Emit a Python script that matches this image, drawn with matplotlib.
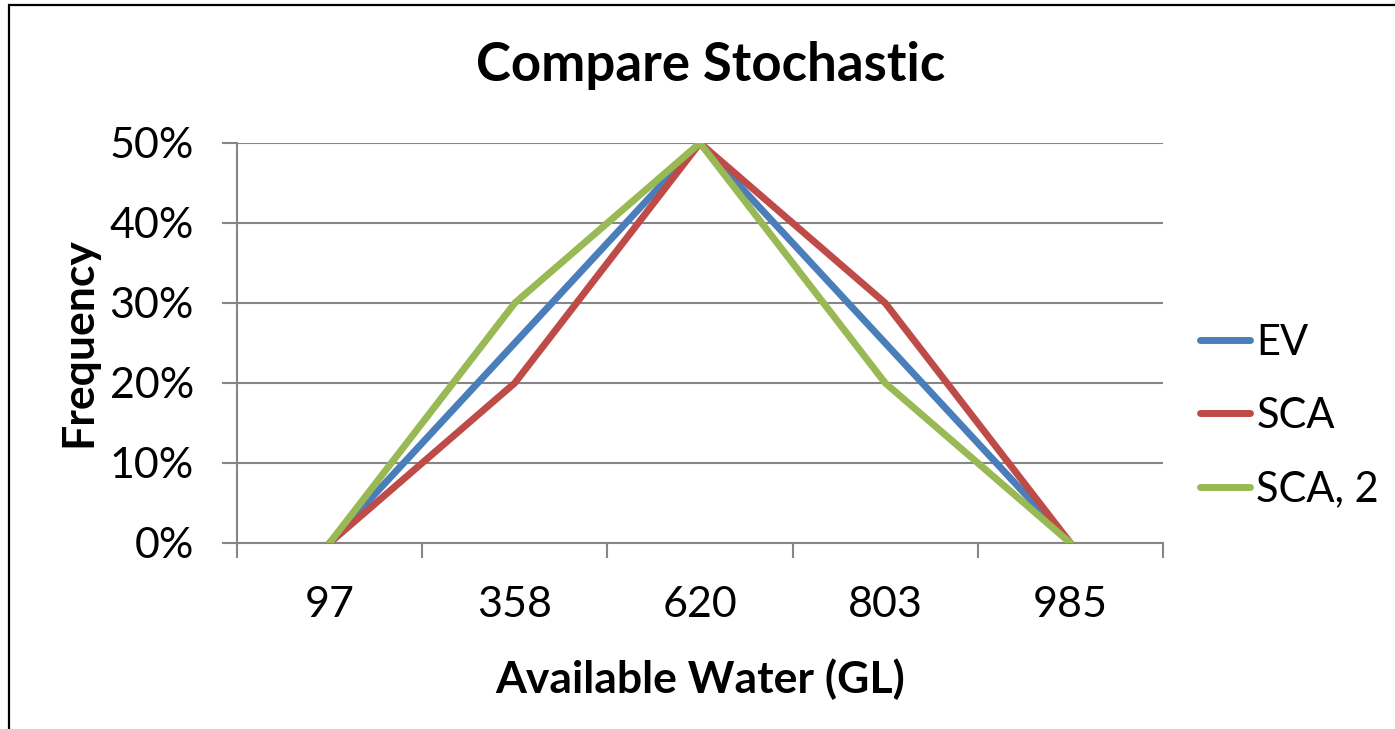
import matplotlib
matplotlib.use("Agg")
import matplotlib.pyplot as plt
from matplotlib.patches import Rectangle
from matplotlib.ticker import PercentFormatter

# ── data
categories = ["97", "358", "620", "803", "985"]
ev = [0, 25, 50, 25, 0]
sca = [0, 20, 50, 30, 0]
sca2 = [0, 30, 50, 20, 0]
series_names = ["EV", "SCA", "SCA, 2"]
series_colors = ["#4A7EBB", "#BE4B48", "#98B954"]

plt.rcParams["font.family"] = ["Lato", "DejaVu Sans"]

W, H = 1395, 729
fig = plt.figure(figsize=(W / 100, H / 100), dpi=100)
fig.patch.set_facecolor("white")

# plot area in pixels: x 237..1163, y 143..543
ax = fig.add_axes([237 / W, 1 - 543 / H, (1163 - 237) / W, (543 - 143) / H])

x = list(range(len(categories)))
for vals, name, col in zip([ev, sca, sca2], series_names, series_colors):
    ax.plot(x, vals, color=col, lw=5, solid_capstyle="round",
            solid_joinstyle="round", label=name, zorder=3)

grid_col = "#868686"
ax.set_xlim(-0.5, len(categories) - 0.5)
ax.set_ylim(0, 50)
ax.set_yticks([0, 10, 20, 30, 40, 50])
ax.yaxis.set_major_formatter(PercentFormatter(decimals=0))
ax.yaxis.grid(True, color=grid_col, lw=1.5)
ax.set_axisbelow(True)

ax.set_xticks(x)
ax.set_xticklabels(categories)
ax.set_xticks([i - 0.5 for i in range(len(categories) + 1)], minor=True)
ax.tick_params(axis="x", which="major", length=0, pad=31, labelsize=31)
ax.tick_params(axis="x", which="minor", length=11, width=1.5, color=grid_col,
               direction="out")
ax.tick_params(axis="y", length=11, width=1.5, color=grid_col, pad=20,
               labelsize=31, direction="out")

for sp in ["top", "right"]:
    ax.spines[sp].set_visible(False)
for sp in ["left", "bottom"]:
    ax.spines[sp].set_color(grid_col)
    ax.spines[sp].set_linewidth(1.5)

# titles
fig.text(711 / W, 1 - 81 / H, "Compare Stochastic", ha="center", va="baseline",
         fontsize=38, fontweight="bold")
fig.text(700 / W, 1 - 693 / H, "Available Water (GL)", ha="center",
         va="baseline", fontsize=32, fontweight="bold")
fig.text(91 / W, 1 - 342 / H, "Frequency", ha="center", va="baseline",
         rotation=90, rotation_mode="anchor", fontsize=32, fontweight="bold")

leg = fig.legend(loc="center left", bbox_to_anchor=(1200 / W, 1 - 416 / H),
                 frameon=False, fontsize=30, handlelength=1.2,
                 handletextpad=0.15, labelspacing=0.85, borderpad=0,
                 borderaxespad=0)

# outer chart border (extends past the right/bottom edges of the crop)
fig.patches.append(Rectangle((9 / W, -0.1), 1.2, 1.1 - 5 / H,
                             transform=fig.transFigure, fill=False,
                             edgecolor="black", lw=1.6))

fig.savefig("out.png", dpi=100, facecolor="white")
